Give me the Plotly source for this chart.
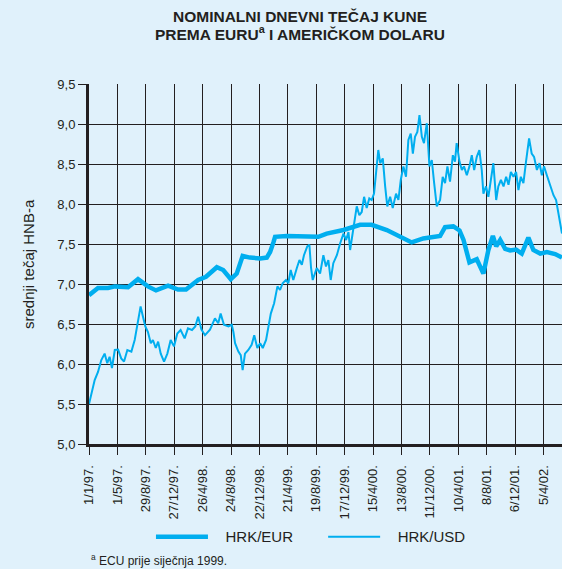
import plotly.graph_objects as go

# ---- data ----
eur_dates = [
    "1997-01-01", "1997-02-08", "1997-03-22", "1997-04-20", "1997-06-15", "1997-07-27",
    "1997-09-07", "1997-10-11", "1997-12-01", "1998-01-12", "1998-02-15", "1998-04-07",
    "1998-05-10", "1998-06-25", "1998-07-22", "1998-08-23", "1998-09-17", "1998-10-12",
    "1998-11-12", "1998-12-25", "1999-01-22", "1999-02-05", "1999-02-19", "1999-02-26",
    "1999-04-16", "1999-08-28", "1999-10-02", "1999-12-12", "2000-02-20", "2000-04-09",
    "2000-06-12", "2000-08-07", "2000-09-25", "2000-11-13", "2001-01-23", "2001-02-13",
    "2001-03-20", "2001-04-15", "2001-05-02", "2001-05-27", "2001-06-27", "2001-07-25",
    "2001-08-15", "2001-09-03", "2001-09-17", "2001-10-04", "2001-10-25", "2001-11-15",
    "2001-12-10", "2002-01-03", "2002-01-31", "2002-02-21", "2002-03-22", "2002-04-19",
    "2002-05-24", "2002-06-22",
]
eur_values = [
    6.86, 6.95, 6.95, 6.97, 6.96, 7.06,
    6.97, 6.92, 6.98, 6.93, 6.93, 7.05,
    7.09, 7.21, 7.175, 7.06, 7.13, 7.35,
    7.33, 7.32, 7.33, 7.40, 7.52, 7.59,
    7.60, 7.59, 7.63, 7.675, 7.74, 7.74,
    7.675, 7.59, 7.52, 7.57, 7.60, 7.71,
    7.72, 7.67, 7.55, 7.27, 7.31, 7.13,
    7.425, 7.60, 7.47, 7.55, 7.44, 7.42,
    7.43, 7.38, 7.58, 7.425, 7.38, 7.40,
    7.375, 7.33,
]

usd_dates = [
    "1997-01-01", "1997-01-25", "1997-02-08", "1997-02-22", "1997-03-08", "1997-03-19",
    "1997-03-29", "1997-04-08", "1997-04-20", "1997-05-04", "1997-05-17", "1997-05-29",
    "1997-06-12", "1997-06-29", "1997-07-13", "1997-07-27", "1997-08-07", "1997-08-17",
    "1997-08-27", "1997-09-07", "1997-09-19", "1997-09-28", "1997-10-10", "1997-10-20",
    "1997-10-31", "1997-11-14", "1997-11-28", "1997-12-12", "1997-12-26", "1998-01-09",
    "1998-01-23", "1998-02-09", "1998-02-23", "1998-03-12", "1998-03-26", "1998-04-07",
    "1998-04-21", "1998-05-06", "1998-05-27", "1998-06-17", "1998-07-01", "1998-07-11",
    "1998-07-25", "1998-08-13", "1998-08-27", "1998-09-03", "1998-09-10", "1998-09-24",
    "1998-10-04", "1998-10-12", "1998-10-22", "1998-11-05", "1998-11-19", "1998-11-30",
    "1998-12-13", "1998-12-25", "1999-01-05", "1999-01-19", "1999-01-29", "1999-02-08",
    "1999-02-22", "1999-03-08", "1999-03-19", "1999-03-30", "1999-04-13", "1999-04-23",
    "1999-05-03", "1999-05-14", "1999-05-29", "1999-06-09", "1999-06-19", "1999-06-28",
    "1999-07-12", "1999-07-21", "1999-07-28", "1999-08-04", "1999-08-21", "1999-09-04",
    "1999-09-18", "1999-09-29", "1999-10-09", "1999-10-19", "1999-10-30", "1999-11-14",
    "1999-11-28", "1999-12-12", "1999-12-23", "2000-01-02", "2000-01-09", "2000-01-20",
    "2000-01-30", "2000-02-06", "2000-02-17", "2000-02-27", "2000-03-08", "2000-03-19",
    "2000-03-30", "2000-04-09", "2000-04-19", "2000-04-28", "2000-05-07", "2000-05-15",
    "2000-05-26", "2000-06-05", "2000-06-14", "2000-06-26", "2000-07-07", "2000-07-21",
    "2000-07-31", "2000-08-10", "2000-08-21", "2000-09-01", "2000-09-11", "2000-09-21",
    "2000-09-30", "2000-10-09", "2000-10-19", "2000-10-28", "2000-11-07", "2000-11-16",
    "2000-11-28", "2000-12-09", "2000-12-19", "2000-12-29", "2001-01-09", "2001-01-23",
    "2001-02-03", "2001-02-13", "2001-02-23", "2001-03-06", "2001-03-18", "2001-03-27",
    "2001-04-03", "2001-04-15", "2001-04-25", "2001-05-04", "2001-05-16", "2001-05-27",
    "2001-06-06", "2001-06-16", "2001-06-27", "2001-07-08", "2001-07-18", "2001-07-25",
    "2001-08-05", "2001-08-15", "2001-08-25", "2001-09-05", "2001-09-17", "2001-09-26",
    "2001-10-07", "2001-10-18", "2001-10-29", "2001-11-08", "2001-11-18", "2001-11-29",
    "2001-12-10", "2001-12-20", "2001-12-30", "2002-01-10", "2002-01-21", "2002-02-03",
    "2002-02-14", "2002-02-24", "2002-03-08", "2002-03-19", "2002-03-29", "2002-04-07",
    "2002-04-19", "2002-05-03", "2002-05-17", "2002-05-28", "2002-06-07", "2002-06-22",
]
usd_values = [
    5.50, 5.80, 5.90, 6.05, 6.13, 6.01,
    6.09, 5.95, 6.175, 6.18, 6.07, 6.03,
    6.175, 6.155, 6.30, 6.51, 6.72, 6.59,
    6.47, 6.40, 6.26, 6.30, 6.20, 6.28,
    6.13, 6.03, 6.13, 6.30, 6.22, 6.38,
    6.425, 6.32, 6.445, 6.425, 6.47, 6.59,
    6.43, 6.36, 6.43, 6.57, 6.51, 6.63,
    6.49, 6.47, 6.49, 6.40, 6.26, 6.155,
    6.11, 5.925, 6.13, 6.175, 6.24, 6.36,
    6.20, 6.26, 6.20, 6.30, 6.47, 6.63,
    6.76, 6.97, 6.925, 7.01, 7.05, 7.01,
    7.175, 7.05, 7.20, 7.30, 7.24, 7.36,
    7.47, 7.49, 7.20, 7.05, 7.20, 7.13,
    7.36, 7.22, 7.30, 7.05, 7.26, 7.36,
    7.51, 7.63, 7.55, 7.65, 7.425, 7.65,
    7.82, 7.97, 7.86, 7.90, 8.09, 7.95,
    8.07, 8.05, 8.13, 8.425, 8.675, 8.51,
    8.57, 8.22, 7.97, 8.09, 7.95, 8.13,
    8.05, 8.30, 8.47, 8.34, 8.80, 8.88,
    8.63, 8.84, 8.90, 9.11, 8.84, 8.76,
    9.01, 8.47, 8.55, 8.26, 7.97, 8.05,
    8.34, 8.26, 8.47, 8.28, 8.61, 8.53,
    8.76, 8.53, 8.425, 8.47, 8.36, 8.47,
    8.61, 8.425, 8.59, 8.675, 8.425, 8.13,
    8.22, 8.09, 8.30, 8.51, 8.05, 8.22,
    8.30, 8.22, 8.34, 8.24, 8.40, 8.34,
    8.40, 8.175, 8.34, 8.26, 8.53, 8.82,
    8.63, 8.59, 8.425, 8.51, 8.36, 8.47,
    8.36, 8.22, 8.11, 8.05, 7.88, 7.63,
]

tick_dates = [
    "1997-01-01", "1997-05-01", "1997-08-29", "1997-12-27", "1998-04-26", "1998-08-24",
    "1998-12-22", "1999-04-21", "1999-08-19", "1999-12-17", "2000-04-15", "2000-08-13",
    "2000-12-11", "2001-04-10", "2001-08-08", "2001-12-06", "2002-04-05",
]
tick_labels = [
    "1/1/97.", "1/5/97.", "29/8/97.", "27/12/97.", "26/4/98.", "24/8/98.",
    "22/12/98.", "21/4/99.", "19/8/99.", "17/12/99.", "15/4/00.", "13/8/00.",
    "11/12/00.", "10/4/01.", "8/8/01.", "6/12/01.", "5/4/02.",
]
y_ticks = [5.0, 5.5, 6.0, 6.5, 7.0, 7.5, 8.0, 8.5, 9.0, 9.5]
y_labels = ["5,0", "5,5", "6,0", "6,5", "7,0", "7,5", "8,0", "8,5", "9,0", "9,5"]

BG = "#e0f1fb"
LINE = "#00aeef"
INK = "#231f20"
FONT = "Liberation Sans, Arial, sans-serif"

fig = go.Figure()
fig.add_trace(go.Scatter(x=eur_dates, y=eur_values, mode="lines",
                         name="&nbsp;&nbsp;&nbsp;HRK/EUR", legend="legend",
                         line=dict(color=LINE, width=4.5)))
fig.add_trace(go.Scatter(x=usd_dates, y=usd_values, mode="lines",
                         name="&nbsp;&nbsp;&nbsp;HRK/USD", legend="legend2",
                         line=dict(color=LINE, width=2)))

legend_common = dict(orientation="h", xanchor="left", y=-0.258, yanchor="middle",
                     font=dict(size=15, color=INK), bgcolor="rgba(0,0,0,0)",
                     itemwidth=52)

fig.update_layout(
    width=562, height=569,
    margin=dict(l=89, r=0, t=84, b=125),
    paper_bgcolor=BG, plot_bgcolor=BG,
    font=dict(family=FONT, color=INK),
    showlegend=True,
    legend=dict(x=0.131, **legend_common),
    legend2=dict(x=0.495, **legend_common),
    xaxis=dict(type="date", range=["1997-01-01", "2002-06-22"],
               tickvals=tick_dates, ticktext=tick_labels, tickangle=-90,
               tickfont=dict(size=13, color=INK), ticklabelstandoff=5,
               ticks="outside", ticklen=8, tickcolor=INK, tickwidth=1,
               showgrid=True, gridcolor=INK, gridwidth=1,
               showline=True, linecolor=INK, linewidth=3, zeroline=False),
    yaxis=dict(range=[5.0, 9.5], tickvals=y_ticks, ticktext=y_labels,
               tickfont=dict(size=13, color=INK),
               ticks="outside", ticklen=8, tickcolor=INK, tickwidth=1,
               showgrid=True, gridcolor=INK, gridwidth=1,
               showline=True, linecolor=INK, linewidth=3, zeroline=False),
    annotations=[
        dict(text="<b>NOMINALNI DNEVNI TEČAJ KUNE</b>",
             xref="paper", yref="paper", x=0.446, y=1.187, xanchor="center", yanchor="middle",
             showarrow=False, font=dict(size=15.5, color=INK)),
        dict(text="<b>PREMA EURU<sup>a</sup> I AMERIČKOM DOLARU</b>",
             xref="paper", yref="paper", x=0.446, y=1.141, xanchor="center", yanchor="middle",
             showarrow=False, font=dict(size=15.5, color=INK)),
        dict(text="srednji tečaj HNB-a", textangle=-90,
             xref="paper", yref="paper", x=-0.129, y=0.5, xanchor="center", yanchor="middle",
             showarrow=False, font=dict(size=15, color=INK)),
        dict(text="<sup>a</sup> ECU prije siječnja 1999.",
             xref="paper", yref="paper", x=0.0, y=-0.294, xanchor="left", yanchor="top",
             showarrow=False, font=dict(size=12, color=INK)),
    ],
)

fig.write_html(
    "out.html",
    config={"displayModeBar": False},
    post_script="document.body.style.margin='0';document.body.style.overflow='hidden';",
)
